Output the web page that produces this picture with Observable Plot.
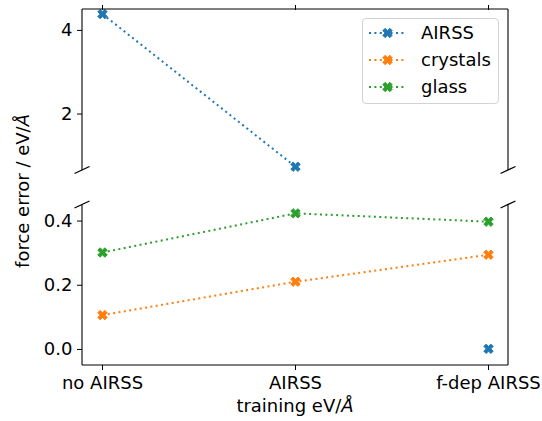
<!DOCTYPE html>
<html><head><meta charset="utf-8">
<script src="https://cdn.jsdelivr.net/npm/d3@7"></script>
<script src="https://cdn.jsdelivr.net/npm/@observablehq/plot@0.6"></script>
<style>
body{margin:0;background:#fff;font-family:"DejaVu Sans",sans-serif;}
#wrap{position:relative;width:542px;height:421px;overflow:hidden;background:#fff;}
#wrap > svg{position:absolute;left:0;top:0;}
#ylab{position:absolute;left:22px;top:191px;transform:translate(-50%,-50%) rotate(-90deg);white-space:nowrap;font-size:18px;color:#000;}
#legend{position:absolute;left:362px;top:18px;width:135px;height:84px;border:1px solid #d3d3d3;border-radius:4px;background:rgba(255,255,255,0.8);}
#legend svg{position:absolute;left:0;top:0;}
</style></head><body><div id="wrap"><div id="ylab">force error / eV/<i>Å</i></div></div>
<script>
// ---- data ----
const categories = ["no AIRSS", "AIRSS", "f-dep AIRSS"];
const seriesNames = ["AIRSS", "crystals", "glass"];
const airss = [4.39, 0.74, 0.002];
const crystals = [0.107, 0.211, 0.295];
const glass = [0.302, 0.424, 0.398];
const colors = ["#1f77b4", "#ff7f0e", "#2ca02c"];
const topTicks = [2, 4];
const bottomTicks = [0, 0.2, 0.4];
const topDomain = [0.65, 4.5];
const bottomDomain = [-0.05, 0.45];

const values = [airss, crystals, glass];
const rows = seriesNames.flatMap((s, i) => categories.map((c, j) => ({series: s, cat: c, value: values[i][j]})));

// matplotlib-like filled "X" marker
const xFilled = {
  draw(ctx, size) {
    const L = Math.sqrt(size / Math.PI) * 1.06, w = L / 3, k = Math.SQRT1_2;
    const pts = [[-w,-L],[w,-L],[w,-w],[L,-w],[L,w],[w,w],[w,L],[-w,L],[-w,w],[-L,w],[-L,-w],[-w,-w]];
    pts.forEach(([x, y], i) => { const X = (x - y) * k, Y = (x + y) * k; i ? ctx.lineTo(X, Y) : ctx.moveTo(X, Y); });
    ctx.closePath();
  }
};
const R = 4.7;
const W = 542, H = 421, ML = 82, MR = 34;
const topPanel = {top: 9, bottom: 170};
const botPanel = {top: 204.5, bottom: 365};

function panel(domain, ticks, box, isBottom) {
  const inRange = rows.filter(d => d.value >= domain[0] && d.value <= domain[1]);
  return Plot.plot({
    width: W, height: H,
    marginLeft: ML, marginRight: MR, marginTop: box.top, marginBottom: H - box.bottom,
    style: {fontFamily: "DejaVu Sans", fontSize: "18px", background: "transparent", color: "black", overflow: "visible"},
    x: {type: "point", domain: categories, padding: 0.098, axis: null},
    y: {domain, axis: null},
    color: {domain: seriesNames, range: colors},
    marks: [
      Plot.axisY({ticks, tickFormat: isBottom ? d3.format(".1f") : d3.format("d"), tickSize: 5, tickPadding: 5, label: null, strokeWidth: 1}),
      isBottom
        ? Plot.axisX({anchor: "bottom", tickSize: 5, tickPadding: 6, label: null})
        : Plot.axisX({anchor: "top", tickSize: 5, tickFormat: () => "", label: null}),
      Plot.line(inRange, {x: "cat", y: "value", z: "series", stroke: "series", strokeWidth: 2, strokeDasharray: "2,3.4", strokeLinecap: "butt"}),
      Plot.dot(inRange, {x: "cat", y: "value", fill: "series", stroke: "series", strokeWidth: 1, symbol: xFilled, r: R})
    ]
  });
}

const wrap = document.getElementById("wrap");
const ylab = document.getElementById("ylab");
const topSvg = panel(topDomain, topTicks, topPanel, false);
const botSvg = panel(bottomDomain, bottomTicks, botPanel, true);
wrap.insertBefore(topSvg, ylab);
wrap.insertBefore(botSvg, ylab);

const x0 = ML, x1 = W - MR;
function spines(svg, box, isBottom) {
  const g = d3.select(svg).append("g").attr("fill", "none").attr("stroke", "black").attr("stroke-width", 1.1);
  g.append("line").attr("x1", x0).attr("x2", x0).attr("y1", box.top).attr("y2", box.bottom);
  g.append("line").attr("x1", x1).attr("x2", x1).attr("y1", box.top).attr("y2", box.bottom);
  const yEdge = isBottom ? box.bottom : box.top;
  g.append("line").attr("x1", x0).attr("x2", x1).attr("y1", yEdge).attr("y2", yEdge);
  const yBreak = isBottom ? box.top : box.bottom;
  for (const x of [x0, x1]) {
    g.append("line").attr("x1", x - 7.5).attr("y1", yBreak + 3.5).attr("x2", x + 7.5).attr("y2", yBreak - 3.5).attr("stroke-width", 1.3);
  }
}
spines(topSvg, topPanel, false);
spines(botSvg, botPanel, true);

// x label
const xl = d3.select(botSvg).append("text").attr("x", (x0 + x1) / 2).attr("y", 412)
  .attr("text-anchor", "middle").attr("font-size", 18).attr("font-family", "DejaVu Sans").attr("fill", "black");
xl.append("tspan").text("training eV/");
xl.append("tspan").attr("font-style", "italic").text("Å");

// legend
const leg = d3.select(wrap).append("div").attr("id", "legend");
const ls = leg.append("svg").attr("width", 135).attr("height", 84);
seriesNames.forEach((s, i) => {
  const y = 14 + 27 * i;
  ls.append("line").attr("x1", 6).attr("x2", 43).attr("y1", y).attr("y2", y)
    .attr("stroke", colors[i]).attr("stroke-width", 2).attr("stroke-dasharray", "2,3.4");
  ls.append("path").attr("d", d3.symbol(xFilled, Math.PI * R * R)()).attr("transform", `translate(24.5,${y})`)
    .attr("fill", colors[i]).attr("stroke", colors[i]).attr("stroke-width", 1);
  ls.append("text").attr("x", 58).attr("y", y).attr("dy", "0.35em").attr("font-size", 18)
    .attr("font-family", "DejaVu Sans").attr("fill", "black").text(s);
});
</script></body></html>
